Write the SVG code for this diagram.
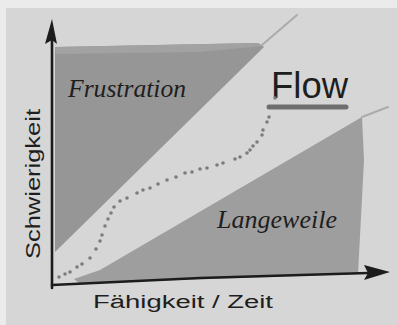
<svg xmlns="http://www.w3.org/2000/svg" width="397" height="325" viewBox="0 0 397 325">
<style>
.axis{fill:none;stroke:#1c1c1c;stroke-width:2.6;stroke-linecap:round}
.ext{fill:none;stroke:#ababab;stroke-width:2;stroke-linecap:round}
.dot{fill:#7c7c7c}
.lbl{font-family:"Liberation Sans",Arial,sans-serif;fill:#1e1e1e}
.hand{font-family:"Liberation Serif","Times New Roman",serif;font-style:italic;fill:#1e1e1e}
</style>
<rect x="0" y="0" width="397" height="325" fill="#ebebeb"/>
<rect x="6" y="8" width="391" height="317" fill="#d6d6d6"/>
<g id="frustration">
<polygon points="55,47 258,43 264,47 55,252" fill="#969696"/>
<polygon points="55,47 258,43 262,46 200,52 56,54" fill="#a2a2a2"/>
<text class="hand" x="68" y="97" font-size="25" textLength="118" lengthAdjust="spacingAndGlyphs">Frustration</text>
</g>
<g id="langeweile">
<polygon points="74,279 100,270 362,117 364,160 358,274 120,282 80,284" fill="#9e9e9e"/>
<text class="hand" x="217" y="228" font-size="25" textLength="120" lengthAdjust="spacingAndGlyphs">Langeweile</text>
</g>
<g id="flow">
<text class="lbl" x="271" y="98" font-size="37" textLength="77" lengthAdjust="spacingAndGlyphs">Flow</text>
<line x1="269" y1="107" x2="346" y2="107" stroke="#6e6e6e" stroke-width="5" stroke-linecap="round"/>
</g>
<g id="connectors">
<line class="ext" x1="262" y1="45" x2="297" y2="15"/>
<line class="ext" x1="362" y1="117" x2="388" y2="107"/>
<line class="axis" x1="52" y1="288" x2="52" y2="40"/>
<polygon points="52,19 45,44 52,40 57,44" fill="#1c1c1c"/>
<polyline class="axis" points="52,285 200,278 368,273"/>
<polygon points="390,272 364,265 368,273 364,280" fill="#1c1c1c"/>
<g id="path-dots">
<circle class="dot" cx="59" cy="277" r="1.8"/>
<circle class="dot" cx="65" cy="274" r="1.8"/>
<circle class="dot" cx="70" cy="272" r="1.8"/>
<circle class="dot" cx="77" cy="267" r="1.8"/>
<circle class="dot" cx="82" cy="264" r="1.8"/>
<circle class="dot" cx="90" cy="258" r="1.8"/>
<circle class="dot" cx="96" cy="249" r="1.8"/>
<circle class="dot" cx="100" cy="241" r="1.8"/>
<circle class="dot" cx="102" cy="235" r="1.8"/>
<circle class="dot" cx="105" cy="226" r="1.8"/>
<circle class="dot" cx="108" cy="219" r="1.8"/>
<circle class="dot" cx="111" cy="213" r="1.8"/>
<circle class="dot" cx="114" cy="207" r="1.8"/>
<circle class="dot" cx="120" cy="201" r="1.8"/>
<circle class="dot" cx="127" cy="198" r="1.8"/>
<circle class="dot" cx="137" cy="193" r="1.8"/>
<circle class="dot" cx="143" cy="190" r="1.8"/>
<circle class="dot" cx="150" cy="188" r="1.8"/>
<circle class="dot" cx="158" cy="184" r="1.8"/>
<circle class="dot" cx="167" cy="180" r="1.8"/>
<circle class="dot" cx="176" cy="177" r="1.8"/>
<circle class="dot" cx="185" cy="173" r="1.8"/>
<circle class="dot" cx="192" cy="172" r="1.8"/>
<circle class="dot" cx="200" cy="169" r="1.8"/>
<circle class="dot" cx="207" cy="168" r="1.8"/>
<circle class="dot" cx="217" cy="165" r="1.8"/>
<circle class="dot" cx="223" cy="163" r="1.8"/>
<circle class="dot" cx="235" cy="159" r="1.8"/>
<circle class="dot" cx="240" cy="157" r="1.8"/>
<circle class="dot" cx="247" cy="153" r="1.8"/>
<circle class="dot" cx="250" cy="150" r="1.8"/>
<circle class="dot" cx="253" cy="146" r="1.8"/>
<circle class="dot" cx="257" cy="142" r="1.8"/>
<circle class="dot" cx="262" cy="135" r="1.8"/>
<circle class="dot" cx="263" cy="130" r="1.8"/>
<circle class="dot" cx="267" cy="122" r="1.8"/>
<circle class="dot" cx="269" cy="117" r="1.8"/>
<circle class="dot" cx="275" cy="98" r="1.8"/>
</g>
</g>
<g id="labels">
<text class="lbl" x="0" y="0" font-size="21" textLength="150" lengthAdjust="spacingAndGlyphs" transform="translate(40,259) rotate(-90)">Schwierigkeit</text>
<text class="lbl" x="93" y="308" font-size="18" textLength="180" lengthAdjust="spacingAndGlyphs">Fähigkeit / Zeit</text>
</g>
</svg>
